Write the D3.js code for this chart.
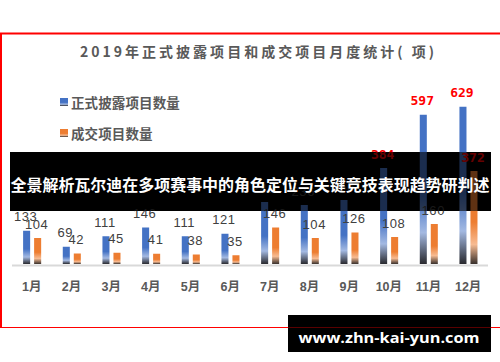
<!DOCTYPE html>
<html>
<head>
<meta charset="utf-8">
<script src="https://cdn.jsdelivr.net/npm/d3@7"></script>
<style>
  body { margin: 0; background: #fff; }
  svg { display: block; }
</style>
</head>
<body>
<div id="chart"></div>
<script>
const months = ["1月", "2月", "3月", "4月", "5月", "6月", "7月", "8月", "9月", "10月", "11月", "12月"];
const seriesNames = ["正式披露项目数量", "成交项目数量"];
const disclosed = [133, 69, 111, 146, 111, 121, 248, 236, 256, 384, 597, 629];
const traded = [104, 42, 45, 41, 38, 35, 146, 104, 126, 108, 160, 372];
const chartTitle = "2019年正式披露项目和成交项目月度统计( 项)";
const bannerText = "全景解析瓦尔迪在多项赛事中的角色定位与关键竞技表现趋势研判述";
const siteText = "www.zhn-kai-yun.com";

const width = 500, height = 362;
const baseY = 264, topY = 89;
const redLimit = 300; // labels from this value up are drawn red
const cjk = "'Noto Sans CJK SC', 'Noto Sans', sans-serif";
const textGray = "#595959";

const svg = d3.select("#chart")
    .append("svg")
    .attr("width", width)
    .attr("height", height);

svg.append("rect").attr("width", width).attr("height", height).attr("fill", "#fff");

const defs = svg.append("defs");
const gradients = [
    { id: "gBlue", main: "#4472c4", light: "#a3b9e2", dark: "#29292e" },
    { id: "gOrange", main: "#ed7d31", light: "#f7bb92", dark: "#38302c" }
];
gradients.forEach(g => {
    const lg = defs.append("linearGradient")
        .attr("id", g.id)
        .attr("x1", 0).attr("y1", 0).attr("x2", 0).attr("y2", 1);
    [[0, g.main], [0.55, g.main], [0.79, g.light], [1, g.dark]].forEach(([o, c]) => {
        lg.append("stop").attr("offset", o).attr("stop-color", c);
    });
});
const bandTop = 152, bandBottom = 211;
defs.append("clipPath").attr("id", "bandClip")
    .append("rect").attr("x", 10).attr("y", bandTop).attr("width", 481).attr("height", bandBottom - bandTop);

// red frame
svg.append("line").attr("x1", 0).attr("x2", width).attr("y1", 33.5).attr("y2", 33.5)
    .attr("stroke", "#ff0000").attr("stroke-width", 2);
svg.append("line").attr("x1", 1).attr("x2", 1).attr("y1", 33).attr("y2", 327)
    .attr("stroke", "#ff0000").attr("stroke-width", 2);
svg.append("line").attr("x1", 0).attr("x2", width).attr("y1", 327.5).attr("y2", 327.5)
    .attr("stroke", "#ff0000").attr("stroke-width", 1.2);

// title
svg.append("text")
    .attr("x", 257).attr("y", 51)
    .attr("text-anchor", "middle")
    .attr("dominant-baseline", "central")
    .attr("font-family", cjk)
    .attr("font-weight", "bold")
    .attr("font-size", 14)
    .attr("fill", textGray)
    .attr("textLength", 354)
    .attr("lengthAdjust", "spacing")
    .text(chartTitle);

// legend
const legend = svg.append("g");
seriesNames.forEach((name, i) => {
    const ly = 102 + i * 31;
    legend.append("rect")
        .attr("x", 60).attr("y", ly - 4).attr("width", 8).attr("height", 8)
        .attr("fill", `url(#${gradients[i].id})`);
    legend.append("text")
        .attr("x", 71).attr("y", ly)
        .attr("dominant-baseline", "central")
        .attr("font-family", cjk)
        .attr("font-weight", "bold")
        .attr("font-size", 13.5)
        .attr("fill", textGray)
        .attr("textLength", 13.6 * name.length)
        .attr("lengthAdjust", "spacing")
        .text(name);
});

// scales
const x = d3.scaleBand().domain(months).range([12, 488]);
const keys = ["disclosed", "traded"];
const x1 = d3.scaleBand().domain(keys)
    .range([x.bandwidth() * 0.28, x.bandwidth() * 0.735])
    .paddingInner(0.36);
const y = d3.scaleLinear().domain([0, 700]).range([baseY, topY]);

const rows = months.map((m, i) => ({ month: m, disclosed: disclosed[i], traded: traded[i] }));

// axis line and labels
svg.append("line").attr("x1", 12).attr("x2", 488).attr("y1", 265.5).attr("y2", 265.5)
    .attr("stroke", "#d9d9d9").attr("stroke-width", 2);

const xAxis = svg.append("g")
    .attr("transform", `translate(0, 287)`)
    .call(d3.axisBottom(x).tickSize(0).tickPadding(0));
xAxis.select(".domain").remove();
xAxis.selectAll("text")
    .attr("dy", null)
    .attr("dominant-baseline", "central")
    .attr("font-family", "'Liberation Sans', " + cjk)
    .attr("font-weight", "bold")
    .attr("font-size", 12.5)
    .attr("fill", textGray);

function drawMarks(parent) {
    const groups = parent.selectAll("g.month")
        .data(rows)
        .join("g")
        .attr("class", "month")
        .attr("transform", d => `translate(${x(d.month)},0)`);

    groups.selectAll("rect")
        .data(d => keys.map((k, i) => ({ key: k, value: d[k], i })))
        .join("rect")
        .attr("x", d => x1(d.key))
        .attr("y", d => y(d.value))
        .attr("width", x1.bandwidth())
        .attr("height", d => baseY - y(d.value))
        .attr("fill", d => `url(#${gradients[d.i].id})`);

    groups.selectAll("text")
        .data(d => keys.map(k => ({ key: k, value: d[k] })))
        .join("text")
        .attr("x", d => x1(d.key) + x1.bandwidth() / 2 - 1)
        .attr("y", d => y(d.value) - 14)
        .attr("text-anchor", "middle")
        .attr("dominant-baseline", "central")
        .attr("font-family", d => d.value >= redLimit ? "'DejaVu Sans Mono', monospace" : "'Liberation Sans', sans-serif")
        .attr("font-weight", d => d.value >= redLimit ? "bold" : "normal")
        .attr("font-size", 13)
        .attr("letter-spacing", d => d.value >= redLimit ? 0 : 0.6)
        .attr("fill", d => d.value >= redLimit ? "#ff0000" : "#404040")
        .text(d => d.value);
}

drawMarks(svg.append("g"));

// dark banner across the chart, marks still faintly visible through it
svg.append("rect")
    .attr("x", 10).attr("y", bandTop).attr("width", 481).attr("height", bandBottom - bandTop)
    .attr("fill", "#000");
drawMarks(svg.append("g").attr("clip-path", "url(#bandClip)").attr("opacity", 0.4));

svg.append("text")
    .attr("x", 250).attr("y", 184)
    .attr("text-anchor", "middle")
    .attr("dominant-baseline", "central")
    .attr("font-family", cjk)
    .attr("font-weight", "bold")
    .attr("font-size", 15.5)
    .attr("fill", "#fff")
    .attr("textLength", 479)
    .attr("lengthAdjust", "spacingAndGlyphs")
    .text(bannerText);

// site tag at the bottom
svg.append("rect")
    .attr("x", 288).attr("y", 315).attr("width", 203).attr("height", 37)
    .attr("fill", "#000");
svg.append("line").attr("x1", 288).attr("x2", 491).attr("y1", 327.5).attr("y2", 327.5)
    .attr("stroke", "#ff0000").attr("stroke-width", 1.2).attr("opacity", 0.35);
svg.append("text")
    .attr("x", 389).attr("y", 337)
    .attr("text-anchor", "middle")
    .attr("dominant-baseline", "central")
    .attr("font-family", "'Open Sans', 'DejaVu Sans', sans-serif")
    .attr("font-weight", "bold")
    .attr("font-size", 15)
    .attr("fill", "#fff")
    .attr("textLength", 181)
    .attr("lengthAdjust", "spacingAndGlyphs")
    .text(siteText);
</script>
</body>
</html>
